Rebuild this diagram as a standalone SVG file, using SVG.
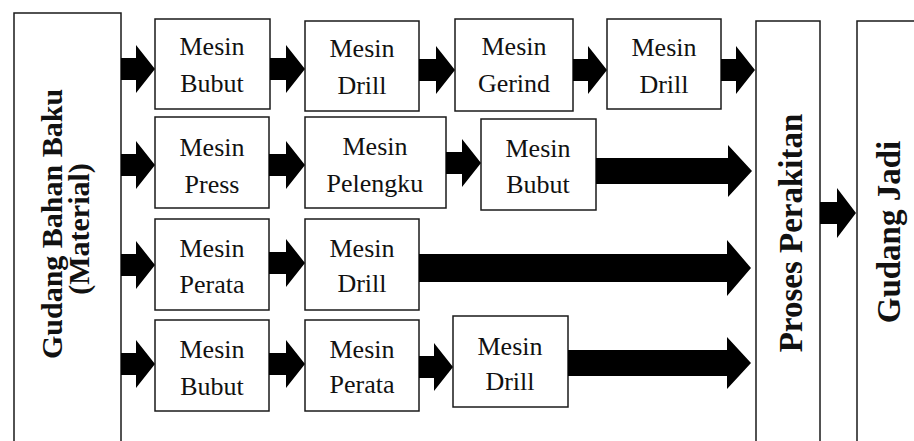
<svg xmlns="http://www.w3.org/2000/svg" width="914" height="441" viewBox="0 0 914 441">
<style>
.box{fill:#fff;stroke:#1a1a1a;stroke-width:1.5}
.t{font-size:26px;fill:#111;text-anchor:middle}
.b{font-weight:bold;fill:#111;text-anchor:middle}
.arr{fill:#000}
</style>
<rect width="914" height="441" fill="#fff"/>
<g font-family="Liberation Serif, Tinos, Times New Roman, Times, DejaVu Serif, Noto Serif, serif">
<g id="gudang-bahan-baku">
<rect class="box" x="14" y="13" width="107" height="440"/>
<text class="b" font-size="30" transform="translate(62,224) rotate(-90)">Gudang Bahan Baku</text>
<text class="b" font-size="30" transform="translate(89,229) rotate(-90)">(Material)</text>
</g>
<g id="proses-perakitan">
<rect class="box" x="756" y="21" width="64" height="440"/>
<text class="b" font-size="33" transform="translate(802,233) rotate(-90)">Proses Perakitan</text>
</g>
<g id="gudang-jadi">
<rect class="box" x="857" y="21" width="70" height="440"/>
<text class="b" font-size="33" transform="translate(900,232) rotate(-90)">Gudang Jadi</text>
</g>
<g id="r1-bubut"><rect class="box" x="155" y="19" width="115" height="90"/><text class="t" x="212" y="55">Mesin</text><text class="t" x="212" y="92">Bubut</text></g>
<g id="r1-drill"><rect class="box" x="305" y="21" width="114" height="90"/><text class="t" x="362" y="57">Mesin</text><text class="t" x="362" y="94">Drill</text></g>
<g id="r1-gerind"><rect class="box" x="455" y="19" width="118" height="92"/><text class="t" x="514" y="55">Mesin</text><text class="t" x="514" y="92">Gerind</text></g>
<g id="r1-drill2"><rect class="box" x="607" y="19" width="114" height="90"/><text class="t" x="664" y="56">Mesin</text><text class="t" x="664" y="93">Drill</text></g>
<g id="r2-press"><rect class="box" x="155" y="117" width="114" height="91"/><text class="t" x="212" y="156">Mesin</text><text class="t" x="212" y="193">Press</text></g>
<g id="r2-pelengku"><rect class="box" x="305" y="117" width="141" height="91"/><text class="t" x="375" y="155">Mesin</text><text class="t" x="375" y="192">Pelengku</text></g>
<g id="r2-bubut"><rect class="box" x="481" y="119" width="115" height="91"/><text class="t" x="538" y="157">Mesin</text><text class="t" x="538" y="193">Bubut</text></g>
<g id="r3-perata"><rect class="box" x="155" y="219" width="114" height="91"/><text class="t" x="212" y="257">Mesin</text><text class="t" x="212" y="293">Perata</text></g>
<g id="r3-drill"><rect class="box" x="305" y="219" width="114" height="91"/><text class="t" x="362" y="257">Mesin</text><text class="t" x="362" y="292">Drill</text></g>
<g id="r4-bubut"><rect class="box" x="155" y="320" width="114" height="91"/><text class="t" x="212" y="358">Mesin</text><text class="t" x="212" y="395">Bubut</text></g>
<g id="r4-perata"><rect class="box" x="305" y="320" width="114" height="91"/><text class="t" x="362" y="358">Mesin</text><text class="t" x="362" y="393">Perata</text></g>
<g id="r4-drill"><rect class="box" x="453" y="316" width="115" height="91"/><text class="t" x="510" y="355">Mesin</text><text class="t" x="510" y="390">Drill</text></g>
</g>
<g id="connectors" class="arr">
<path d="M121,58H136V45L155,69L136,93V80H121Z"/>
<path d="M270,58H286V45L305,69L286,93V80H270Z"/>
<path d="M419,59H436V46L455,70L436,94V81H419Z"/>
<path d="M573,59H588V46L607,70L588,94V81H573Z"/>
<path d="M721,59H736V46L755,70L736,94V81H721Z"/>
<path d="M121,154H136V141L155,165L136,189V176H121Z"/>
<path d="M269,154H286V141L305,165L286,189V176H269Z"/>
<path d="M446,152H462V139L481,163L462,187V174H446Z"/>
<path d="M596,158H728V145L752,171L728,197V184H596Z"/>
<path d="M121,254H136V241L155,265L136,289V276H121Z"/>
<path d="M269,252H286V239L305,263L286,287V274H269Z"/>
<path d="M419,254H727V240L751,268L727,296V282H419Z"/>
<path d="M121,353H136V340L155,364L136,388V375H121Z"/>
<path d="M269,353H286V340L305,364L286,388V375H269Z"/>
<path d="M419,356H434V343L453,367L434,391V378H419Z"/>
<path d="M568,350H727V337L751,363L727,389V376H568Z"/>
<path d="M820,202H837V188L856,213L837,238V224H820Z"/>
</g>
</svg>
